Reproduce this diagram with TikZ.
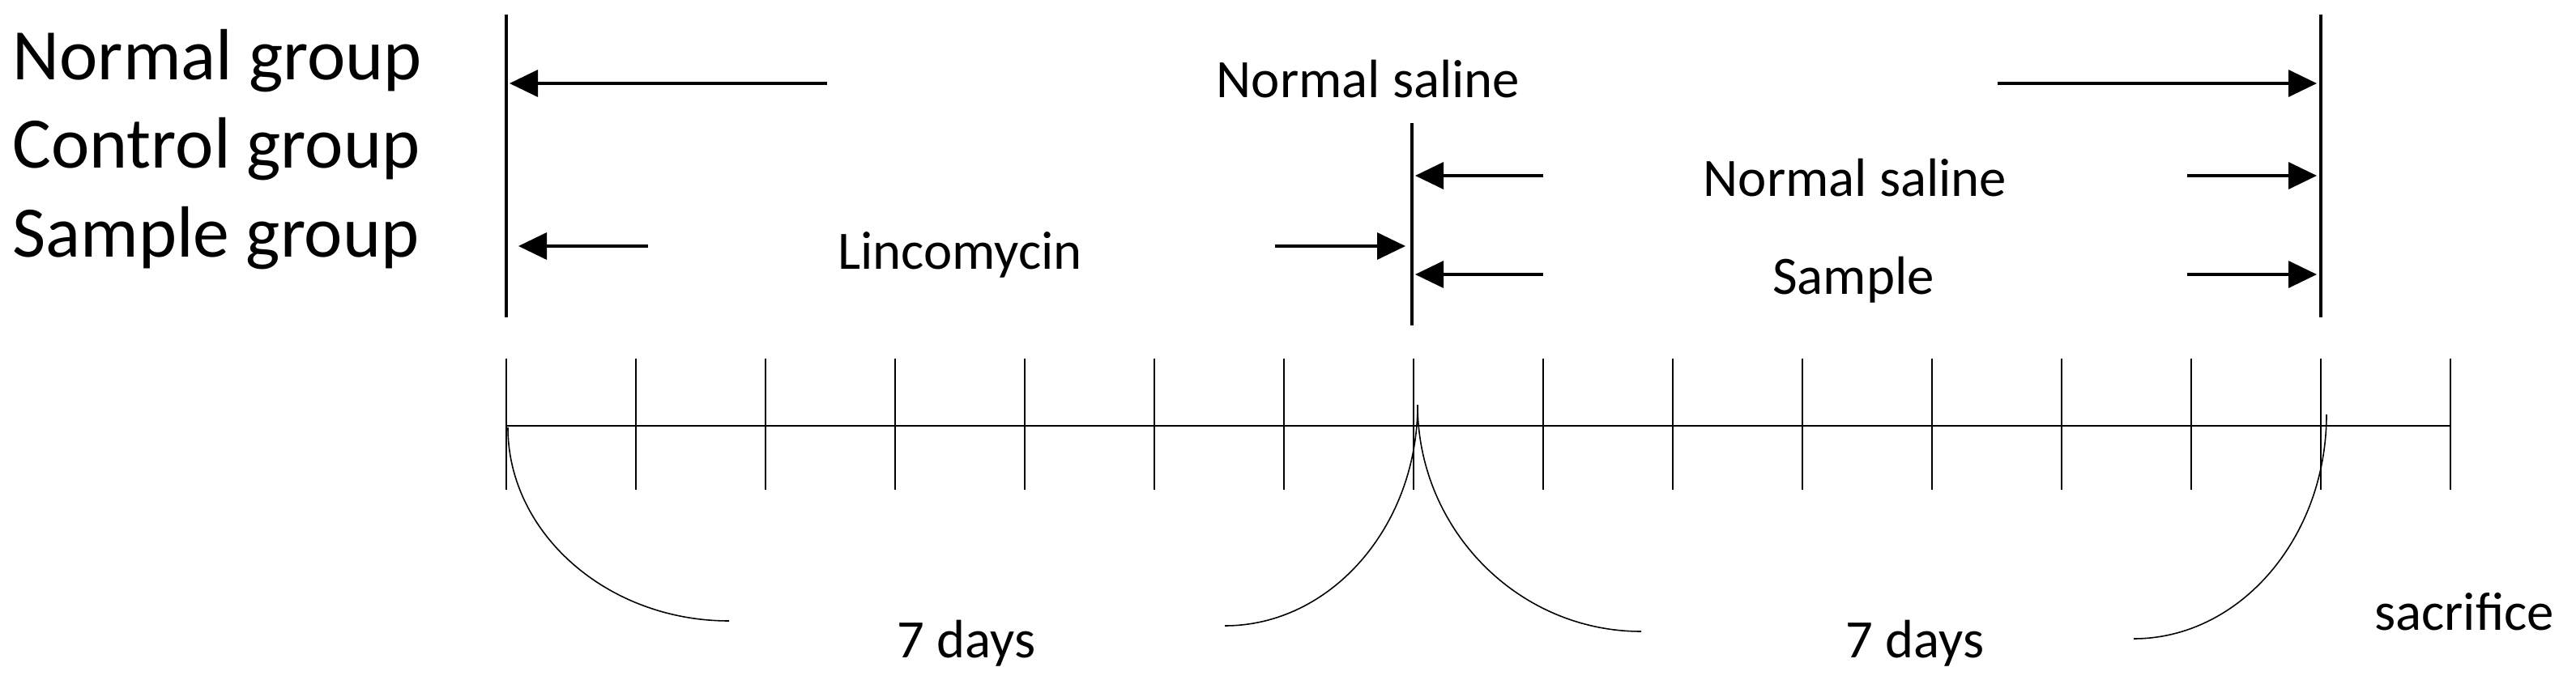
\documentclass[tikz,border=0pt]{standalone}
\usepackage{fontspec}
\setmainfont{Carlito}
\usetikzlibrary{arrows.meta}

\begin{document}
\begin{tikzpicture}[
	grouplabel/.style={font=\fontsize{25.5}{30}\selectfont, anchor=base west, inner sep=0pt},
	druglabel/.style={font=\fontsize{19}{23}\selectfont, anchor=base, inner sep=0pt},
	bar/.style={line width=1.1pt},
	dose/.style={line width=1pt, -{Triangle[length=3.5mm,width=3.3mm]}},
	axis/.style={line width=0.75pt},
	tick/.style={line width=0.6pt},
	brace/.style={line width=0.45pt}]
	\useasboundingbox (0,0) rectangle (31.8,-8.4);
	% groups
	\node[grouplabel] (normal) at (0.15,-0.98) {Normal group};
	\node[grouplabel] (control) at (0.15,-2.07) {Control group};
	\node[grouplabel] (sample) at (0.15,-3.17) {Sample group};
	% day 0, day 7, day 14
	\coordinate (d0top) at (6.25,-0.18);
	\coordinate (d0bot) at (6.25,-3.92);
	\coordinate (d7top) at (17.43,-1.52);
	\coordinate (d7bot) at (17.43,-4.02);
	\coordinate (d14top) at (28.65,-0.18);
	\coordinate (d14bot) at (28.65,-3.92);
	\draw [bar] (d0top) -- (d0bot);
	\draw [bar] (d7top) -- (d7bot);
	\draw [bar] (d14top) -- (d14bot);
	% treatments
	\node[druglabel] (nsall) at (16.89,-1.20) {Normal saline};
	\node[druglabel] (linco) at (11.85,-3.32) {Lincomycin};
	\node[druglabel] (nsctrl) at (22.90,-2.42) {Normal saline};
	\node[druglabel] (smpl) at (22.88,-3.63) {Sample};
	\coordinate (a1) at (10.21,-1.03);  \coordinate (a1e) at (6.29,-1.03);
	\coordinate (a2) at (24.66,-1.03);  \coordinate (a2e) at (28.60,-1.03);
	\coordinate (b1) at (8.00,-3.04);   \coordinate (b1e) at (6.40,-3.04);
	\coordinate (b2) at (15.74,-3.04);  \coordinate (b2e) at (17.35,-3.04);
	\coordinate (c1) at (19.05,-2.17);  \coordinate (c1e) at (17.47,-2.17);
	\coordinate (c2) at (27.00,-2.17);  \coordinate (c2e) at (28.60,-2.17);
	\coordinate (e1) at (19.05,-3.39);  \coordinate (e1e) at (17.47,-3.39);
	\coordinate (e2) at (27.00,-3.39);  \coordinate (e2e) at (28.60,-3.39);
	\draw [dose] (a1) to (a1e);
	\draw [dose] (a2) to (a2e);
	\draw [dose] (b1) to (b1e);
	\draw [dose] (b2) to (b2e);
	\draw [dose] (c1) to (c1e);
	\draw [dose] (c2) to (c2e);
	\draw [dose] (e1) to (e1e);
	\draw [dose] (e2) to (e2e);
	% time axis
	\coordinate (t0) at (6.25,-5.26);
	\coordinate (t15) at (30.25,-5.26);
	\draw [axis] (t0) -- (t15);
	\foreach \k in {0,...,15}
		\draw [tick] (6.25+1.6*\k,-4.43) -- ++(0,-1.62);
	% braces
	\draw [brace] (6.27,-5.28) .. controls (6.27,-6.59) and (7.50,-7.67) .. (9.00,-7.67);
	\draw [brace] (17.50,-5.00) .. controls (17.50,-6.50) and (16.43,-7.73) .. (15.12,-7.73);
	\draw [brace] (17.50,-5.00) .. controls (17.50,-6.54) and (18.74,-7.80) .. (20.26,-7.80);
	\draw [brace] (28.72,-5.12) .. controls (28.72,-6.64) and (27.65,-7.89) .. (26.34,-7.89);
	\node[druglabel] (week1) at (11.93,-8.12) {7 days};
	\node[druglabel] (week2) at (23.64,-8.12) {7 days};
	\node[druglabel] (end) at (30.42,-7.78) {sacrifice};
\end{tikzpicture}
\end{document}
